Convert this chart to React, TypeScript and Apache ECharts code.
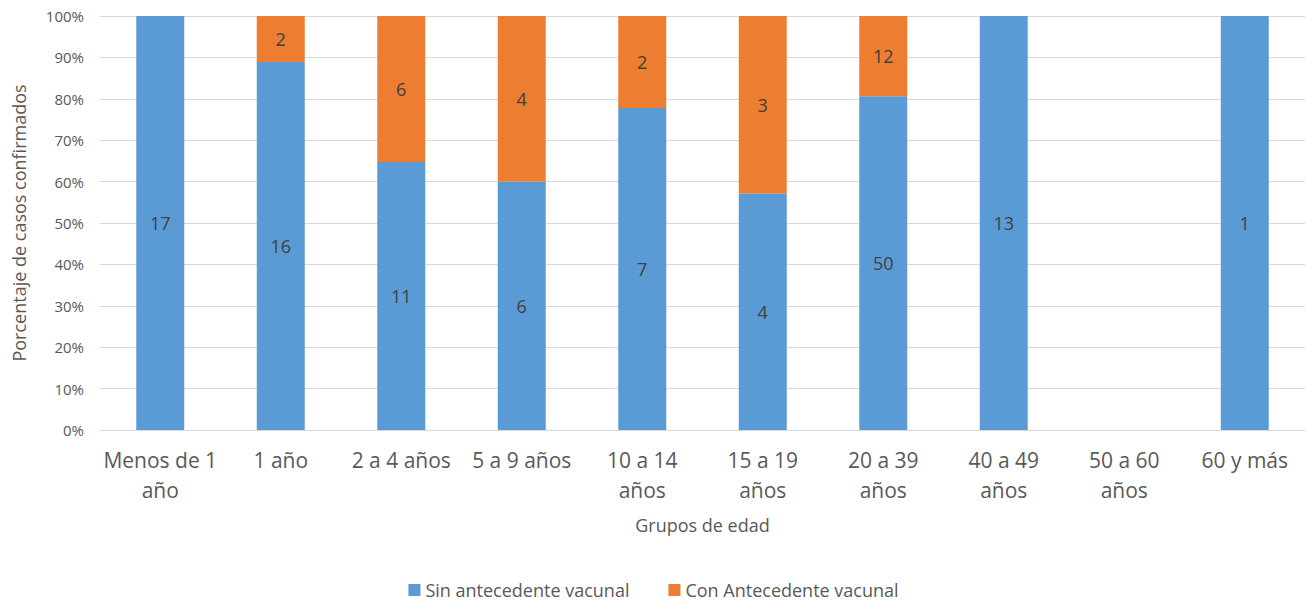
import React, { useEffect, useRef } from "react";
import * as echarts from "echarts";

const categories = [
  "Menos de 1\naño",
  "1 año",
  "2 a 4 años",
  "5 a 9 años",
  "10 a 14\naños",
  "15 a 19\naños",
  "20 a 39\naños",
  "40 a 49\naños",
  "50 a 60\naños",
  "60 y más",
];
const sinAntecedente = [17, 16, 11, 6, 7, 4, 50, 13, 0, 1];
const conAntecedente = [0, 2, 6, 4, 2, 3, 12, 0, 0, 0];
const yTicks = [0, 10, 20, 30, 40, 50, 60, 70, 80, 90, 100];

const FONT = "'Open Sans', 'Noto Sans', sans-serif";

export default function App() {
  const ref = useRef<HTMLDivElement>(null);
  useEffect(() => {
    if (!ref.current) return;
    const chart = echarts.init(ref.current, undefined, { renderer: "svg" });
    const totals = sinAntecedente.map((v, i) => v + conAntecedente[i]);
    const pct = (arr: number[]) => arr.map((v, i) => (totals[i] ? (v / totals[i]) * 100 : 0));
    const labelFmt = (arr: number[]) => (p: any) => (arr[p.dataIndex] ? String(arr[p.dataIndex]) : "");
    chart.setOption({
      animation: false,
      textStyle: { fontFamily: FONT },
      grid: { left: 100, right: 2, top: 16, bottom: 173, containLabel: false },
      legend: {
        top: 581,
        left: "center",
        padding: 0,
        itemWidth: 12,
        itemHeight: 12,
        itemGap: 39,
        itemTextGap: 4,
        icon: "rect",
        textStyle: { fontFamily: FONT, fontSize: 18, color: "#595959" },
        data: ["Sin antecedente vacunal", "Con Antecedente vacunal"],
      },
      xAxis: {
        type: "category",
        data: categories,
        name: "Grupos de edad",
        nameLocation: "middle",
        nameGap: 86,
        nameTextStyle: { fontFamily: FONT, fontSize: 18, color: "#595959" },
        axisLine: { lineStyle: { color: "#D9D9D9", width: 1 } },
        axisTick: { show: false },
        axisLabel: {
          fontFamily: FONT,
          fontSize: 21,
          color: "#595959",
          lineHeight: 30,
          margin: 15,
          interval: 0,
        },
      },
      yAxis: {
        type: "value",
        min: 0,
        max: 100,
        interval: 10,
        name: "Porcentaje de casos confirmados",
        nameLocation: "middle",
        nameGap: 72,
        nameTextStyle: { fontFamily: FONT, fontSize: 18, color: "#595959" },
        axisLabel: {
          fontFamily: FONT,
          fontSize: 15,
          color: "#595959",
          margin: 16,
          formatter: (v: number) => (yTicks.includes(v) ? v + "%" : ""),
        },
        splitLine: { lineStyle: { color: "#D9D9D9", width: 1 } },
        axisLine: { show: false },
        axisTick: { show: false },
      },
      series: [
        {
          name: "Sin antecedente vacunal",
          type: "bar",
          stack: "total",
          barWidth: 48,
          itemStyle: { color: "#5B9BD5" },
          data: pct(sinAntecedente),
          label: {
            show: true,
            position: "inside",
            fontFamily: FONT,
            fontSize: 18,
            color: "#404040",
            formatter: labelFmt(sinAntecedente),
          },
        },
        {
          name: "Con Antecedente vacunal",
          type: "bar",
          stack: "total",
          barWidth: 48,
          itemStyle: { color: "#ED7D31" },
          data: pct(conAntecedente),
          label: {
            show: true,
            position: "inside",
            fontFamily: FONT,
            fontSize: 18,
            color: "#404040",
            formatter: labelFmt(conAntecedente),
          },
        },
      ],
    });
    return () => chart.dispose();
  }, []);
  return (
    <div
      ref={ref}
      style={{ position: "fixed", left: 0, top: 0, width: 1307, height: 603, background: "#fff" }}
    />
  );
}
